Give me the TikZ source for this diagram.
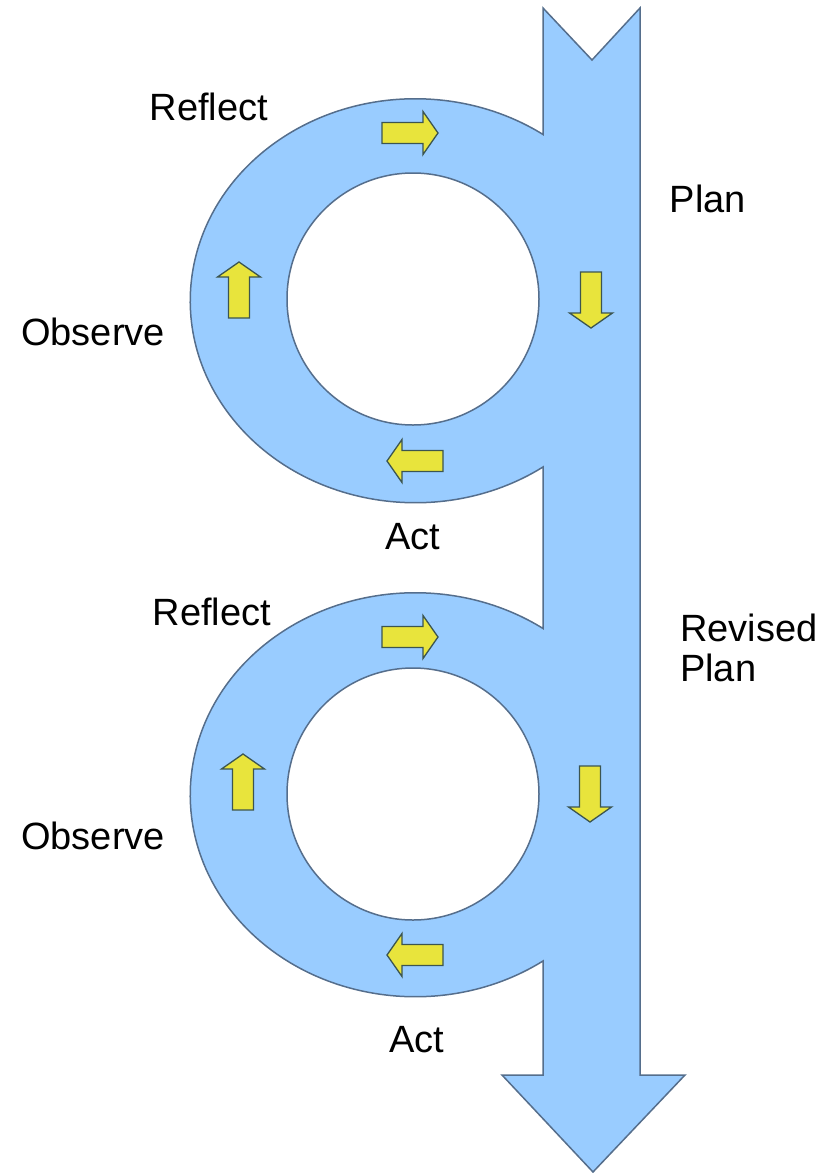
\documentclass[tikz,border=0pt]{standalone}
\usepackage{fontspec}
\setmainfont{Liberation Sans}
\definecolor{ringblue}{RGB}{153,204,255}
\definecolor{edgeblue}{RGB}{85,110,140}
\definecolor{yfill}{RGB}{232,228,60}
\definecolor{yedge}{RGB}{60,85,80}
\tikzset{
  bluebody/.style={fill=ringblue, draw=edgeblue, line width=1.5pt, line join=miter},
  hole/.style={fill=white, draw=edgeblue, line width=1.5pt},
  lbl/.style={font=\fontsize{38}{40}\selectfont, inner sep=0pt},
  yarrow/.pic={\draw[fill=yfill, draw=yedge, line width=1.3pt, line join=miter]
    (-28,-10.5) -- (13,-10.5) -- (13,-21.5) -- (28,0) -- (13,21.5) -- (13,10.5) -- (-28,10.5) -- cycle;}
}
\begin{document}
\begin{tikzpicture}[x=1pt,y=1pt]
\useasboundingbox (0,0) rectangle (828,-1173);
% main arrow with the two loops
\path[bluebody] (543,-8) -- (592,-60) -- (640,-8) -- (640,-1075) -- (685,-1075)
  -- (593,-1172) -- (502,-1075) -- (543,-1075) -- (543,-961)
  arc[start angle=-55.4, end angle=-304.6, x radius=225pt, y radius=202pt]
  -- (543,-467)
  arc[start angle=-55.4, end angle=-304.6, x radius=225pt, y radius=202pt]
  -- cycle;
% holes
\draw[hole] (413,-299) circle[radius=126pt];
\draw[hole] (413,-794) circle[radius=126pt];
% yellow arrows, loop 1
\pic at (410,-133) {yarrow};
\pic[rotate=-90] at (591,-300) {yarrow};
\pic[rotate=180] at (415,-461) {yarrow};
\pic[rotate=90] at (239,-290) {yarrow};
% yellow arrows, loop 2
\pic at (410,-637) {yarrow};
\pic[rotate=-90] at (590,-794) {yarrow};
\pic[rotate=180] at (415,-955) {yarrow};
\pic[rotate=90] at (243,-782) {yarrow};
% labels
\node[lbl] (reflect1) at (209,-107) {Reflect};
\node[lbl] (plan) at (708,-199) {Plan};
\node[lbl] (observe1) at (93,-332) {Observe};
\node[lbl] (act1) at (413,-537) {Act};
\node[lbl] (reflect2) at (212,-612) {Reflect};
\node[lbl, align=left, anchor=west] (revised) at (680,-648) {Revised\\Plan};
\node[lbl] (observe2) at (93,-836) {Observe};
\node[lbl] (act2) at (417,-1040) {Act};
\end{tikzpicture}
\end{document}
